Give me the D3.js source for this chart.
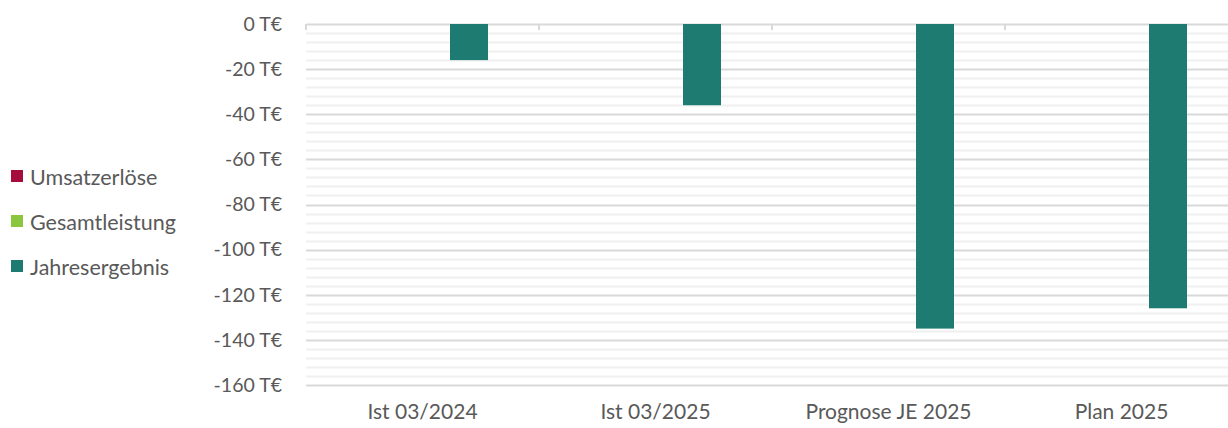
<!DOCTYPE html>
<html>
<head>
<meta charset="utf-8">
<script src="https://cdn.jsdelivr.net/npm/d3@7"></script>
<style>
  body { margin: 0; background: #fff; }
  text { font-family: Lato, "Open Sans", sans-serif; fill: #595959; }
</style>
</head>
<body>
<div id="chart"></div>
<script>
(function(){
    const categories = ["Ist 03/2024", "Ist 03/2025", "Prognose JE 2025", "Plan 2025"];
    const seriesNames = ["Umsatzerlöse", "Gesamtleistung", "Jahresergebnis"];
    const umsatzerloese = [null, null, null, null];
    const gesamtleistung = [null, null, null, null];
    const jahresergebnis = [-16, -36, -135, -126];
    const yTicks = [0, -20, -40, -60, -80, -100, -120, -140, -160];

    const colors = ["#a50d3d", "#8cc63e", "#1e7b72"];
    const seriesValues = [umsatzerloese, gesamtleistung, jahresergebnis];

    const fullWidth = 1228;
    const fullHeight = 428;
    const margin = { top: 24, left: 306, bottom: 43, right: -10 };
    const width = fullWidth - margin.left - margin.right;
    const height = fullHeight - margin.top - margin.bottom;

    const svg = d3.select("#chart")
        .append('svg')
            .attr('width', fullWidth)
            .attr('height', fullHeight);

    const g = svg.append('g')
        .attr('transform', `translate(${margin.left}, ${margin.top})`);

    const yScale = d3.scaleLinear()
        .domain([0, -160])
        .range([0, height]);

    const xScale = d3.scaleBand()
        .domain(categories)
        .range([0, width]);

    const barW = 38, step = 46.5;

    // minor gridlines every 4
    g.append('g').selectAll('line')
        .data(d3.range(0, -161, -4).filter(v => v % 20 !== 0))
        .join('line')
            .attr('x1', 0).attr('x2', width)
            .attr('y1', d => Math.round(yScale(d)) + 0.5)
            .attr('y2', d => Math.round(yScale(d)) + 0.5)
            .attr('stroke', '#f0f0f0')
            .attr('stroke-width', 2);

    // major gridlines
    g.append('g').selectAll('line')
        .data(yTicks)
        .join('line')
            .attr('x1', 0).attr('x2', width)
            .attr('y1', d => Math.round(yScale(d)) + 0.5)
            .attr('y2', d => Math.round(yScale(d)) + 0.5)
            .attr('stroke', '#d9d9d9')
            .attr('stroke-width', 2);

    // category tick marks on the zero line
    g.append('g').selectAll('line')
        .data(categories)
        .join('line')
            .attr('x1', d => xScale(d)).attr('x2', d => xScale(d))
            .attr('y1', 0).attr('y2', 6)
            .attr('stroke', '#d9d9d9')
            .attr('stroke-width', 2);

    // bars
    seriesValues.forEach((vals, si) => {
        g.append('g').selectAll('rect')
            .data(categories.map((c, i) => ({ c, v: vals[i] })).filter(d => d.v != null))
            .join('rect')
                .attr('x', d => xScale(d.c) + xScale.bandwidth() / 2 + (si - 1) * step - barW / 2)
                .attr('y', d => yScale(Math.max(0, d.v)))
                .attr('width', barW)
                .attr('height', d => Math.abs(yScale(d.v) - yScale(0)))
                .attr('fill', colors[si]);
    });

    // y axis labels
    const yAxis = d3.axisLeft(yScale)
        .tickValues(yTicks)
        .tickSize(0)
        .tickPadding(24)
        .tickFormat(d => d + " T€");
    const ya = g.append('g').call(yAxis);
    ya.select('.domain').remove();
    ya.selectAll('text').style('font-size', '19.5px').attr('fill', null);

    // x axis labels
    const xAxis = d3.axisBottom(xScale).tickSize(0).tickPadding(19);
    const xa = g.append('g')
        .attr('transform', `translate(0, ${height})`)
        .call(xAxis);
    xa.select('.domain').remove();
    xa.selectAll('text').style('font-size', '21px').attr('fill', null);

    // legend
    const legend = svg.append('g').attr('transform', 'translate(11, 176)');
    const item = legend.selectAll('g')
        .data(seriesNames)
        .join('g')
            .attr('transform', (d, i) => `translate(0, ${i * 45})`);
    item.append('rect')
        .attr('x', 0).attr('y', -6)
        .attr('width', 12).attr('height', 12)
        .attr('fill', (d, i) => colors[i]);
    item.append('text')
        .attr('x', 19).attr('y', 1)
        .attr('dy', '0.35em')
        .style('font-size', '21.5px')
        .text(d => d);
}())
</script>
</body>
</html>
